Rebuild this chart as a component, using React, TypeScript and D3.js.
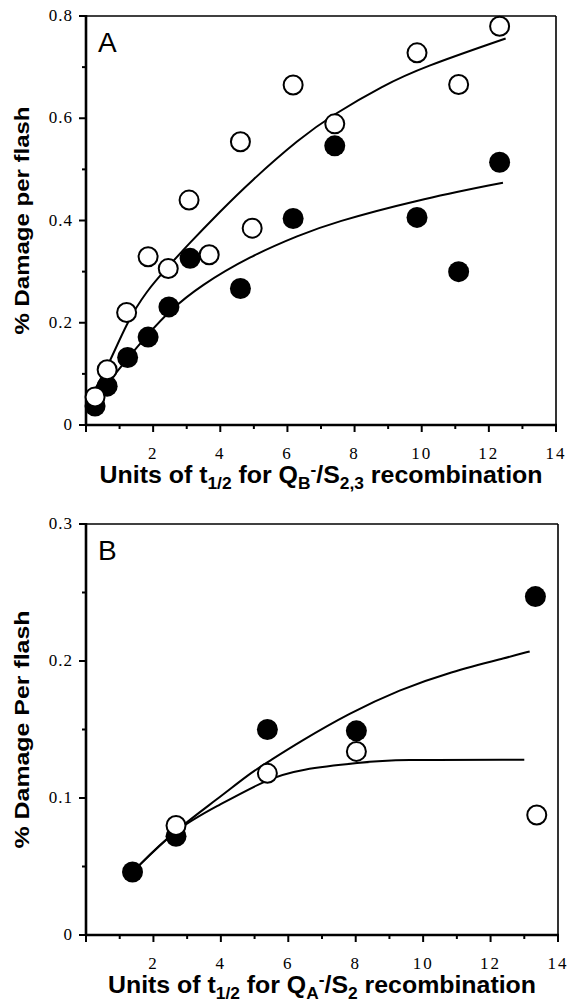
import React from 'react';
import * as d3 from 'd3';

// ---------- Data ----------
const xMajor = [2, 4, 6, 8, 10, 12, 14];
const xMinor = [1, 3, 5, 7, 9, 11, 13];

const yMajorA = [0, 0.2, 0.4, 0.6, 0.8];
const yMinorA = [0.1, 0.3, 0.5, 0.7];
const yLabelsA = ['0', '0.2', '0.4', '0.6', '0.8'];

const yMajorB = [0, 0.1, 0.2, 0.3];
const yMinorB = [0.05, 0.15, 0.25];
const yLabelsB = ['0', '0.1', '0.2', '0.3'];

// Panel A – QB-/S2,3
const openA: [number, number][] = [
  [0.27, 0.055], [0.63, 0.108], [1.21, 0.22], [1.85, 0.329], [2.45, 0.306],
  [3.07, 0.44], [3.67, 0.333], [4.6, 0.554], [4.95, 0.385], [6.17, 0.665],
  [7.41, 0.589], [9.86, 0.728], [11.1, 0.666], [12.32, 0.78],
];
const filledA: [number, number][] = [
  [0.27, 0.037], [0.63, 0.076], [1.24, 0.132], [1.85, 0.172], [2.47, 0.231],
  [3.1, 0.326], [4.6, 0.267], [6.17, 0.404], [7.41, 0.546], [9.86, 0.406],
  [11.1, 0.3], [12.32, 0.514],
];
const fitOpenA: [number, number][] = [
  [0.1, 0.05], [0.66, 0.115], [1.21, 0.2], [1.8, 0.262], [2.45, 0.31],
  [3.0, 0.35], [4.0, 0.418], [4.88, 0.475], [6.37, 0.561], [7.36, 0.607],
  [8.85, 0.664], [10.04, 0.7], [12.5, 0.756],
];
const fitFilledA: [number, number][] = [
  [0.12, 0.04], [0.66, 0.082], [1.21, 0.128], [1.85, 0.178], [2.5, 0.224],
  [3.39, 0.272], [4.88, 0.33], [6.37, 0.372], [7.36, 0.396], [9.84, 0.44],
  [12.42, 0.474],
];

// Panel B – QA-/S2
const openB: [number, number][] = [
  [2.67, 0.08], [5.38, 0.118], [8.02, 0.134], [13.37, 0.0876],
];
const filledB: [number, number][] = [
  [1.38, 0.046], [2.67, 0.072], [5.38, 0.15], [8.02, 0.149], [13.33, 0.247],
];
const fitFilledB: [number, number][] = [
  [1.38, 0.046], [2.67, 0.077], [3.89, 0.099], [4.86, 0.118], [5.38, 0.126],
  [6.34, 0.141], [7.82, 0.162], [9.3, 0.179], [10.79, 0.192], [12.56, 0.203],
  [13.16, 0.207],
];
const fitOpenB: [number, number][] = [
  [1.38, 0.046], [2.67, 0.078], [3.89, 0.094], [5.38, 0.114], [6.34, 0.121],
  [8.2, 0.126], [9.1, 0.128], [13.0, 0.128],
];

const SANS = 'Arial, "Liberation Sans", Helvetica, sans-serif';
const SERIF = '"Liberation Serif", "Times New Roman", Times, serif';

type PanelProps = {
  left: number; right: number; top: number; bottom: number;
  yMax: number; yMajor: number[]; yMinor: number[]; yLabels: string[];
  open: [number, number][]; filled: [number, number][];
  fits: [number, number][][];
  letter: string;
  yTitle: string; yTitleLen: number;
  xTitle: React.ReactNode; xTitleLen: number;
};

function Panel(p: PanelProps) {
  const x = d3.scaleLinear().domain([0, 14]).range([p.left, p.right]);
  const y = d3.scaleLinear().domain([0, p.yMax]).range([p.bottom, p.top]);
  const line = d3.line<[number, number]>()
    .x(d => x(d[0])).y(d => y(d[1]))
    .curve(d3.curveBasis);
  const cx = (p.left + p.right) / 2;
  const cy = (p.top + p.bottom) / 2;
  const serifStyle = { fontFamily: SERIF, fontSize: 17 } as React.CSSProperties;
  return (
    <g>
      {/* frame */}
      <line x1={p.left} x2={p.right} y1={p.top} y2={p.top} stroke="#000" strokeWidth={1.6} />
      <line x1={p.right} x2={p.right} y1={p.top} y2={p.bottom} stroke="#000" strokeWidth={1.6} />
      <line x1={p.left} x2={p.left} y1={p.top - 1} y2={p.bottom + 1} stroke="#000" strokeWidth={2.6} />
      <line x1={p.left - 1} x2={p.right + 1} y1={p.bottom} y2={p.bottom} stroke="#000" strokeWidth={2.6} />
      {/* x ticks */}
      {[0, ...xMajor].map(t => (
        <line key={'xM' + t} x1={x(t)} x2={x(t)} y1={p.bottom} y2={p.bottom + 7} stroke="#000" strokeWidth={2} />
      ))}
      {xMinor.map(t => (
        <line key={'xm' + t} x1={x(t)} x2={x(t)} y1={p.bottom} y2={p.bottom + 4} stroke="#000" strokeWidth={2} />
      ))}
      {xMajor.map(t => (
        <text key={'xl' + t} x={x(t)} y={p.bottom + 34} textAnchor="middle"
          style={{ ...serifStyle, letterSpacing: '2px' }}>{t}</text>
      ))}
      {/* y ticks */}
      {p.yMajor.map((t, i) => (
        <g key={'yM' + t}>
          <line x1={p.left - 7} x2={p.left} y1={y(t)} y2={y(t)} stroke="#000" strokeWidth={2} />
          <text x={73} y={y(t) + 5} textAnchor="end" style={{ ...serifStyle, letterSpacing: '1px' }}>{p.yLabels[i]}</text>
        </g>
      ))}
      {p.yMinor.map(t => (
        <line key={'ym' + t} x1={p.left - 4} x2={p.left} y1={y(t)} y2={y(t)} stroke="#000" strokeWidth={2} />
      ))}
      {/* fits */}
      {p.fits.map((f, i) => (
        <path key={'f' + i} d={line(f) || ''} fill="none" stroke="#000" strokeWidth={2} />
      ))}
      {/* points */}
      {p.filled.map((d, i) => (
        <circle key={'fp' + i} cx={x(d[0])} cy={y(d[1])} r={10.5} fill="#000" />
      ))}
      {p.open.map((d, i) => (
        <circle key={'op' + i} cx={x(d[0])} cy={y(d[1])} r={9.5} fill="#fff" stroke="#000" strokeWidth={2} />
      ))}
      {/* letter */}
      <text x={p.left + 12} y={p.top + 36} style={{ fontFamily: SANS, fontSize: 28 }}>{p.letter}</text>
      {/* y title */}
      <text transform={`translate(29,${cy}) rotate(-90)`} textAnchor="middle"
        style={{ fontFamily: SANS, fontWeight: 'bold', fontSize: 21 }}
        textLength={p.yTitleLen} lengthAdjust="spacingAndGlyphs">{p.yTitle}</text>
      {/* x title */}
      <text x={cx} y={p.bottom + 58} textAnchor="middle"
        style={{ fontFamily: SANS, fontWeight: 'bold', fontSize: 23 }}
        textLength={p.xTitleLen} lengthAdjust="spacingAndGlyphs">{p.xTitle}</text>
    </g>
  );
}

export default function App() {
  const sub = { fontSize: 16 } as React.CSSProperties;
  const xTitleA = (
    <>
      <tspan>Units of t</tspan>
      <tspan style={sub} dy={6}>1/2</tspan>
      <tspan dy={-6}> for Q</tspan>
      <tspan style={sub} dy={6}>B</tspan>
      <tspan style={sub} dy={-14}>-</tspan>
      <tspan dy={8}>/S</tspan>
      <tspan style={sub} dy={6}>2,3</tspan>
      <tspan dy={-6}> recombination</tspan>
    </>
  );
  const xTitleB = (
    <>
      <tspan>Units of t</tspan>
      <tspan style={sub} dy={6}>1/2</tspan>
      <tspan dy={-6}> for Q</tspan>
      <tspan style={sub} dy={6}>A</tspan>
      <tspan style={sub} dy={-14}>-</tspan>
      <tspan dy={8}>/S</tspan>
      <tspan style={sub} dy={6}>2</tspan>
      <tspan dy={-6}> recombination</tspan>
    </>
  );
  return (
    <svg width={569} height={1004} style={{ position: 'absolute', left: 0, top: 0, display: 'block', background: '#fff' }}>
      <rect width={569} height={1004} fill="#fff" />
      <Panel left={86} right={556} top={16} bottom={425} yMax={0.8}
        yMajor={yMajorA} yMinor={yMinorA} yLabels={yLabelsA}
        open={openA} filled={filledA} fits={[fitOpenA, fitFilledA]}
        letter="A" yTitle="% Damage per flash" yTitleLen={228}
        xTitle={xTitleA} xTitleLen={443} />
      <Panel left={86} right={558} top={524} bottom={935} yMax={0.3}
        yMajor={yMajorB} yMinor={yMinorB} yLabels={yLabelsB}
        open={openB} filled={filledB} fits={[fitFilledB, fitOpenB]}
        letter="B" yTitle="% Damage Per flash" yTitleLen={238}
        xTitle={xTitleB} xTitleLen={428} />
    </svg>
  );
}
